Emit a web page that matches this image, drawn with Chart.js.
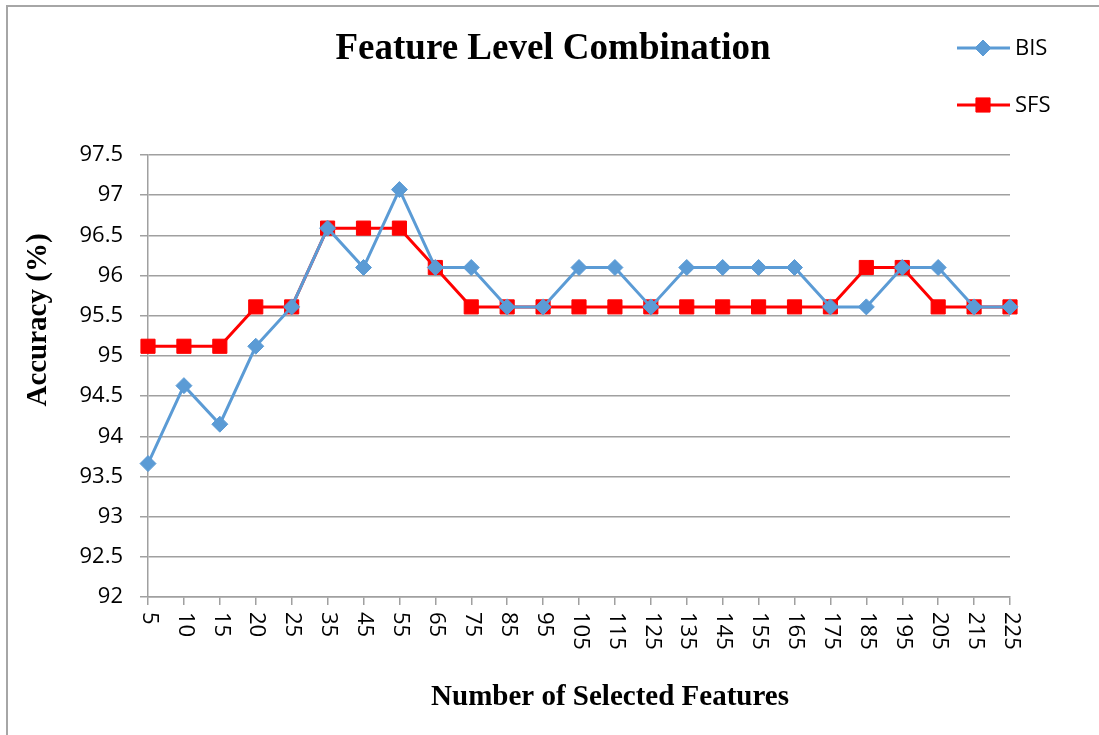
<!DOCTYPE html>
<html>
<head>
<meta charset="utf-8">
<script src="https://cdn.jsdelivr.net/npm/chart.js@4"></script>
<style>
  html, body { margin: 0; padding: 0; background: #fff; overflow: hidden; }
  #wrap { position: relative; width: 1099px; height: 735px; }
  #frame { position: absolute; left: 6px; top: 5px; width: 1200px; height: 800px;
           border-left: 2px solid #a6a6a6; border-top: 2px solid #a6a6a6; }
  canvas { position: absolute; left: 0; top: 0; }
</style>
</head>
<body>
<div id="wrap">
  <div id="frame"></div>
  <canvas id="chart" width="1099" height="735"></canvas>
</div>
<script>
// feature counts on the x axis
var features = ['5', '10', '15', '20', '25', '35', '45', '55', '65', '75', '85', '95', '105',
                '115', '125', '135', '145', '155', '165', '175', '185', '195', '205', '215', '225'];

var bisAcc = [93.66, 94.63, 94.15, 95.12, 95.61, 96.59, 96.10, 97.07, 96.10, 96.10, 95.61, 95.61, 96.10,
              96.10, 95.61, 96.10, 96.10, 96.10, 96.10, 95.61, 95.61, 96.10, 96.10, 95.61, 95.61];

var sfsAcc = [95.12, 95.12, 95.12, 95.61, 95.61, 96.59, 96.59, 96.59, 96.10, 95.61, 95.61, 95.61, 95.61,
              95.61, 95.61, 95.61, 95.61, 95.61, 95.61, 95.61, 96.10, 96.10, 95.61, 95.61, 95.61];

var chartTitle = 'Feature Level Combination';
var xTitle = 'Number of Selected Features';
var yTitle = 'Accuracy (%)';

var GRID = '#a0a0a0';
var TICKFONT = "'Open Sans', 'Liberation Sans', sans-serif";
var SERIF = "'Liberation Serif', 'Times New Roman', serif";

// x tick labels read top-to-bottom, which Chart.js does not do by itself
var rotatedLabels = {
  id: 'rotatedLabels',
  afterDraw: function (chart) {
    var xs = chart.scales.x;
    var ctx = chart.ctx;
    ctx.save();
    ctx.fillStyle = '#000';
    ctx.font = '22px ' + TICKFONT;
    ctx.textAlign = 'left';
    ctx.textBaseline = 'middle';
    xs.ticks.forEach(function (t, i) {
      var x = xs.getPixelForTick(i);
      ctx.save();
      ctx.translate(x + 1, xs.top + 15);
      ctx.rotate(Math.PI / 2);
      ctx.fillText(features[i], 0, 0);
      ctx.restore();
    });
    ctx.restore();
  }
};

// titles are placed off-centre in the original, so draw them by hand
var titles = {
  id: 'titles',
  afterDraw: function (chart) {
    var ctx = chart.ctx;
    ctx.save();
    ctx.fillStyle = '#000';
    ctx.textAlign = 'center';
    ctx.textBaseline = 'middle';
    ctx.font = 'bold 37px ' + SERIF;
    ctx.fillText(chartTitle, 553, 49);
    ctx.font = 'bold 29px ' + SERIF;
    ctx.fillText(xTitle, 610, 698);
    ctx.translate(39, 320);
    ctx.rotate(-Math.PI / 2);
    ctx.fillText(yTitle, 0, 0);
    ctx.restore();
  }
};

// legend sits beside the title, over the plot's right edge
var sideLegend = {
  id: 'sideLegend',
  afterDraw: function (chart) {
    var ctx = chart.ctx;
    var rows = [48, 105];
    chart.data.datasets.forEach(function (ds, i) {
      var y = rows[i];
      ctx.save();
      ctx.strokeStyle = ds.borderColor;
      ctx.lineWidth = ds.borderWidth;
      ctx.beginPath();
      ctx.moveTo(957, y);
      ctx.lineTo(1010, y);
      ctx.stroke();
      ctx.fillStyle = ds.pointBackgroundColor;
      ctx.strokeStyle = ds.pointBorderColor;
      ctx.lineWidth = 1;
      Chart.helpers.drawPoint(ctx, {
        pointStyle: ds.pointStyle, radius: ds.pointRadius, borderWidth: 1
      }, 983, y);
      ctx.fillStyle = '#000';
      ctx.font = '22px ' + TICKFONT;
      ctx.textAlign = 'left';
      ctx.textBaseline = 'middle';
      ctx.fillText(ds.label, 1015, y + 1);
      ctx.restore();
    });
  }
};

new Chart(document.getElementById('chart'), {
  type: 'line',
  data: {
    labels: features,
    datasets: [{
      label: 'BIS',
      data: bisAcc,
      borderColor: '#5b9bd5',
      backgroundColor: '#5b9bd5',
      pointBackgroundColor: '#5b9bd5',
      pointBorderColor: '#5b9bd5',
      borderWidth: 3,
      pointStyle: 'rectRot',
      pointRadius: 8,
      pointBorderWidth: 1,
      tension: 0
    }, {
      label: 'SFS',
      data: sfsAcc,
      borderColor: '#ff0000',
      backgroundColor: '#ff0000',
      pointBackgroundColor: '#ff0000',
      pointBorderColor: '#ff0000',
      borderWidth: 3,
      pointStyle: 'rect',
      pointRadius: 10,
      pointBorderWidth: 1,
      tension: 0
    }]
  },
  options: {
    responsive: false,
    animation: false,
    layout: { padding: { left: 77, right: 89, top: 155, bottom: 130 } },
    plugins: {
      legend: { display: false },
      tooltip: { enabled: false },
      title: { display: false }
    },
    scales: {
      x: {
        offset: false,
        grid: { display: true, drawOnChartArea: false, drawTicks: true, tickLength: 8, color: GRID, lineWidth: 1.5 },
        border: { display: true, color: GRID, width: 1.5 },
        ticks: {
          display: false, autoSkip: false
        }
      },
      y: {
        min: 92,
        max: 97.5,
        afterFit: function (scale) { scale.width = 71; },
        grid: { color: GRID, lineWidth: 1.5, tickLength: 8 },
        border: { display: true, color: GRID, width: 1.5 },
        ticks: {
          stepSize: 0.5, color: '#000', padding: 17,
          font: { family: TICKFONT, size: 22 },
          callback: function (v) { return String(Math.round(v * 10) / 10); }
        }
      }
    }
  },
  plugins: [rotatedLabels, titles, sideLegend]
});
</script>
</body>
</html>
